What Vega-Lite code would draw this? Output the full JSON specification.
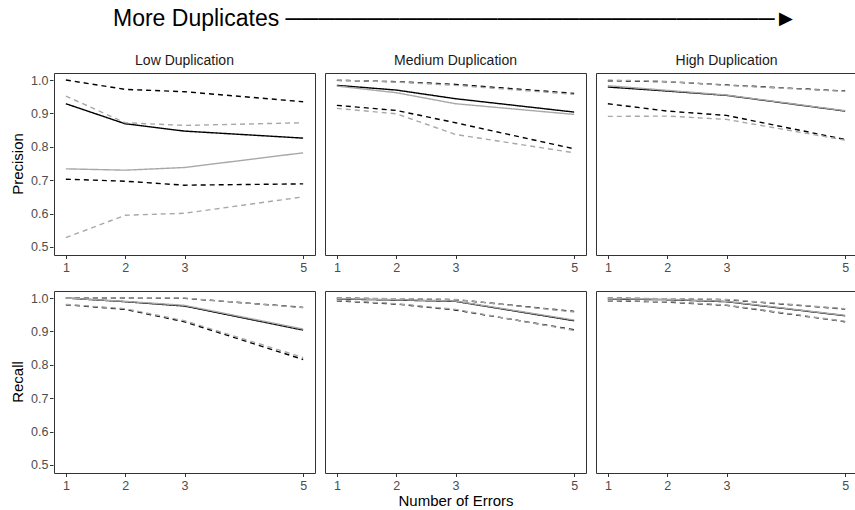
{
  "$schema": "https://vega.github.io/schema/vega-lite/v6.json",
  "padding": {"left": 10, "top": 8, "right": 0, "bottom": 2},
  "title": {
    "text": "More Duplicates ──────────────────────────────►",
    "anchor": "start",
    "frame": "group",
    "fontSize": 23,
    "fontWeight": "normal",
    "font": "Liberation Sans",
    "color": "#000000",
    "dx": 59,
    "offset": 23
  },
  "data": {"values": [
    {"m":"Precision","d":"Low Duplication","g":"A","s":"upper","x":1,"y":1.0},
    {"m":"Precision","d":"Low Duplication","g":"A","s":"upper","x":2,"y":0.972},
    {"m":"Precision","d":"Low Duplication","g":"A","s":"upper","x":3,"y":0.965},
    {"m":"Precision","d":"Low Duplication","g":"A","s":"upper","x":5,"y":0.935},
    {"m":"Precision","d":"Low Duplication","g":"A","s":"mean","x":1,"y":0.929},
    {"m":"Precision","d":"Low Duplication","g":"A","s":"mean","x":2,"y":0.869},
    {"m":"Precision","d":"Low Duplication","g":"A","s":"mean","x":3,"y":0.847},
    {"m":"Precision","d":"Low Duplication","g":"A","s":"mean","x":5,"y":0.826},
    {"m":"Precision","d":"Low Duplication","g":"A","s":"lower","x":1,"y":0.703},
    {"m":"Precision","d":"Low Duplication","g":"A","s":"lower","x":2,"y":0.697},
    {"m":"Precision","d":"Low Duplication","g":"A","s":"lower","x":3,"y":0.685},
    {"m":"Precision","d":"Low Duplication","g":"A","s":"lower","x":5,"y":0.689},
    {"m":"Precision","d":"Medium Duplication","g":"A","s":"upper","x":1,"y":0.999},
    {"m":"Precision","d":"Medium Duplication","g":"A","s":"upper","x":2,"y":0.995},
    {"m":"Precision","d":"Medium Duplication","g":"A","s":"upper","x":3,"y":0.987},
    {"m":"Precision","d":"Medium Duplication","g":"A","s":"upper","x":5,"y":0.960},
    {"m":"Precision","d":"Medium Duplication","g":"A","s":"mean","x":1,"y":0.984},
    {"m":"Precision","d":"Medium Duplication","g":"A","s":"mean","x":2,"y":0.970},
    {"m":"Precision","d":"Medium Duplication","g":"A","s":"mean","x":3,"y":0.944},
    {"m":"Precision","d":"Medium Duplication","g":"A","s":"mean","x":5,"y":0.904},
    {"m":"Precision","d":"Medium Duplication","g":"A","s":"lower","x":1,"y":0.924},
    {"m":"Precision","d":"Medium Duplication","g":"A","s":"lower","x":2,"y":0.909},
    {"m":"Precision","d":"Medium Duplication","g":"A","s":"lower","x":3,"y":0.872},
    {"m":"Precision","d":"Medium Duplication","g":"A","s":"lower","x":5,"y":0.794},
    {"m":"Precision","d":"High Duplication","g":"A","s":"upper","x":1,"y":0.998},
    {"m":"Precision","d":"High Duplication","g":"A","s":"upper","x":2,"y":0.995},
    {"m":"Precision","d":"High Duplication","g":"A","s":"upper","x":3,"y":0.985},
    {"m":"Precision","d":"High Duplication","g":"A","s":"upper","x":5,"y":0.967},
    {"m":"Precision","d":"High Duplication","g":"A","s":"mean","x":1,"y":0.979},
    {"m":"Precision","d":"High Duplication","g":"A","s":"mean","x":2,"y":0.967},
    {"m":"Precision","d":"High Duplication","g":"A","s":"mean","x":3,"y":0.954},
    {"m":"Precision","d":"High Duplication","g":"A","s":"mean","x":5,"y":0.907},
    {"m":"Precision","d":"High Duplication","g":"A","s":"lower","x":1,"y":0.929},
    {"m":"Precision","d":"High Duplication","g":"A","s":"lower","x":2,"y":0.907},
    {"m":"Precision","d":"High Duplication","g":"A","s":"lower","x":3,"y":0.894},
    {"m":"Precision","d":"High Duplication","g":"A","s":"lower","x":5,"y":0.822},
    {"m":"Recall","d":"Low Duplication","g":"A","s":"upper","x":1,"y":1.0},
    {"m":"Recall","d":"Low Duplication","g":"A","s":"upper","x":2,"y":1.0},
    {"m":"Recall","d":"Low Duplication","g":"A","s":"upper","x":3,"y":0.999},
    {"m":"Recall","d":"Low Duplication","g":"A","s":"upper","x":5,"y":0.972},
    {"m":"Recall","d":"Low Duplication","g":"A","s":"mean","x":1,"y":1.0},
    {"m":"Recall","d":"Low Duplication","g":"A","s":"mean","x":2,"y":0.989},
    {"m":"Recall","d":"Low Duplication","g":"A","s":"mean","x":3,"y":0.976},
    {"m":"Recall","d":"Low Duplication","g":"A","s":"mean","x":5,"y":0.904},
    {"m":"Recall","d":"Low Duplication","g":"A","s":"lower","x":1,"y":0.980},
    {"m":"Recall","d":"Low Duplication","g":"A","s":"lower","x":2,"y":0.966},
    {"m":"Recall","d":"Low Duplication","g":"A","s":"lower","x":3,"y":0.929},
    {"m":"Recall","d":"Low Duplication","g":"A","s":"lower","x":5,"y":0.816},
    {"m":"Recall","d":"Medium Duplication","g":"A","s":"upper","x":1,"y":1.0},
    {"m":"Recall","d":"Medium Duplication","g":"A","s":"upper","x":2,"y":0.997},
    {"m":"Recall","d":"Medium Duplication","g":"A","s":"upper","x":3,"y":0.995},
    {"m":"Recall","d":"Medium Duplication","g":"A","s":"upper","x":5,"y":0.960},
    {"m":"Recall","d":"Medium Duplication","g":"A","s":"mean","x":1,"y":0.997},
    {"m":"Recall","d":"Medium Duplication","g":"A","s":"mean","x":2,"y":0.994},
    {"m":"Recall","d":"Medium Duplication","g":"A","s":"mean","x":3,"y":0.990},
    {"m":"Recall","d":"Medium Duplication","g":"A","s":"mean","x":5,"y":0.932},
    {"m":"Recall","d":"Medium Duplication","g":"A","s":"lower","x":1,"y":0.992},
    {"m":"Recall","d":"Medium Duplication","g":"A","s":"lower","x":2,"y":0.982},
    {"m":"Recall","d":"Medium Duplication","g":"A","s":"lower","x":3,"y":0.964},
    {"m":"Recall","d":"Medium Duplication","g":"A","s":"lower","x":5,"y":0.905},
    {"m":"Recall","d":"High Duplication","g":"A","s":"upper","x":1,"y":1.0},
    {"m":"Recall","d":"High Duplication","g":"A","s":"upper","x":2,"y":0.997},
    {"m":"Recall","d":"High Duplication","g":"A","s":"upper","x":3,"y":0.995},
    {"m":"Recall","d":"High Duplication","g":"A","s":"upper","x":5,"y":0.967},
    {"m":"Recall","d":"High Duplication","g":"A","s":"mean","x":1,"y":0.997},
    {"m":"Recall","d":"High Duplication","g":"A","s":"mean","x":2,"y":0.995},
    {"m":"Recall","d":"High Duplication","g":"A","s":"mean","x":3,"y":0.989},
    {"m":"Recall","d":"High Duplication","g":"A","s":"mean","x":5,"y":0.947},
    {"m":"Recall","d":"High Duplication","g":"A","s":"lower","x":1,"y":0.992},
    {"m":"Recall","d":"High Duplication","g":"A","s":"lower","x":2,"y":0.988},
    {"m":"Recall","d":"High Duplication","g":"A","s":"lower","x":3,"y":0.978},
    {"m":"Recall","d":"High Duplication","g":"A","s":"lower","x":5,"y":0.929},
    {"m":"Precision","d":"Low Duplication","g":"B","s":"upper","x":1,"y":0.952},
    {"m":"Precision","d":"Low Duplication","g":"B","s":"upper","x":2,"y":0.872},
    {"m":"Precision","d":"Low Duplication","g":"B","s":"upper","x":3,"y":0.864},
    {"m":"Precision","d":"Low Duplication","g":"B","s":"upper","x":5,"y":0.872},
    {"m":"Precision","d":"Low Duplication","g":"B","s":"mean","x":1,"y":0.734},
    {"m":"Precision","d":"Low Duplication","g":"B","s":"mean","x":2,"y":0.730},
    {"m":"Precision","d":"Low Duplication","g":"B","s":"mean","x":3,"y":0.738},
    {"m":"Precision","d":"Low Duplication","g":"B","s":"mean","x":5,"y":0.782},
    {"m":"Precision","d":"Low Duplication","g":"B","s":"lower","x":1,"y":0.528},
    {"m":"Precision","d":"Low Duplication","g":"B","s":"lower","x":2,"y":0.595},
    {"m":"Precision","d":"Low Duplication","g":"B","s":"lower","x":3,"y":0.601},
    {"m":"Precision","d":"Low Duplication","g":"B","s":"lower","x":5,"y":0.650},
    {"m":"Precision","d":"Medium Duplication","g":"B","s":"upper","x":1,"y":1.0},
    {"m":"Precision","d":"Medium Duplication","g":"B","s":"upper","x":2,"y":0.994},
    {"m":"Precision","d":"Medium Duplication","g":"B","s":"upper","x":3,"y":0.984},
    {"m":"Precision","d":"Medium Duplication","g":"B","s":"upper","x":5,"y":0.957},
    {"m":"Precision","d":"Medium Duplication","g":"B","s":"mean","x":1,"y":0.982},
    {"m":"Precision","d":"Medium Duplication","g":"B","s":"mean","x":2,"y":0.962},
    {"m":"Precision","d":"Medium Duplication","g":"B","s":"mean","x":3,"y":0.929},
    {"m":"Precision","d":"Medium Duplication","g":"B","s":"mean","x":5,"y":0.897},
    {"m":"Precision","d":"Medium Duplication","g":"B","s":"lower","x":1,"y":0.915},
    {"m":"Precision","d":"Medium Duplication","g":"B","s":"lower","x":2,"y":0.899},
    {"m":"Precision","d":"Medium Duplication","g":"B","s":"lower","x":3,"y":0.837},
    {"m":"Precision","d":"Medium Duplication","g":"B","s":"lower","x":5,"y":0.782},
    {"m":"Precision","d":"High Duplication","g":"B","s":"upper","x":1,"y":1.0},
    {"m":"Precision","d":"High Duplication","g":"B","s":"upper","x":2,"y":0.996},
    {"m":"Precision","d":"High Duplication","g":"B","s":"upper","x":3,"y":0.984},
    {"m":"Precision","d":"High Duplication","g":"B","s":"upper","x":5,"y":0.966},
    {"m":"Precision","d":"High Duplication","g":"B","s":"mean","x":1,"y":0.983},
    {"m":"Precision","d":"High Duplication","g":"B","s":"mean","x":2,"y":0.969},
    {"m":"Precision","d":"High Duplication","g":"B","s":"mean","x":3,"y":0.955},
    {"m":"Precision","d":"High Duplication","g":"B","s":"mean","x":5,"y":0.908},
    {"m":"Precision","d":"High Duplication","g":"B","s":"lower","x":1,"y":0.891},
    {"m":"Precision","d":"High Duplication","g":"B","s":"lower","x":2,"y":0.892},
    {"m":"Precision","d":"High Duplication","g":"B","s":"lower","x":3,"y":0.882},
    {"m":"Precision","d":"High Duplication","g":"B","s":"lower","x":5,"y":0.820},
    {"m":"Recall","d":"Low Duplication","g":"B","s":"upper","x":1,"y":1.0},
    {"m":"Recall","d":"Low Duplication","g":"B","s":"upper","x":2,"y":1.0},
    {"m":"Recall","d":"Low Duplication","g":"B","s":"upper","x":3,"y":1.0},
    {"m":"Recall","d":"Low Duplication","g":"B","s":"upper","x":5,"y":0.971},
    {"m":"Recall","d":"Low Duplication","g":"B","s":"mean","x":1,"y":1.0},
    {"m":"Recall","d":"Low Duplication","g":"B","s":"mean","x":2,"y":0.990},
    {"m":"Recall","d":"Low Duplication","g":"B","s":"mean","x":3,"y":0.978},
    {"m":"Recall","d":"Low Duplication","g":"B","s":"mean","x":5,"y":0.907},
    {"m":"Recall","d":"Low Duplication","g":"B","s":"lower","x":1,"y":0.981},
    {"m":"Recall","d":"Low Duplication","g":"B","s":"lower","x":2,"y":0.968},
    {"m":"Recall","d":"Low Duplication","g":"B","s":"lower","x":3,"y":0.932},
    {"m":"Recall","d":"Low Duplication","g":"B","s":"lower","x":5,"y":0.822},
    {"m":"Recall","d":"Medium Duplication","g":"B","s":"upper","x":1,"y":1.0},
    {"m":"Recall","d":"Medium Duplication","g":"B","s":"upper","x":2,"y":0.998},
    {"m":"Recall","d":"Medium Duplication","g":"B","s":"upper","x":3,"y":0.996},
    {"m":"Recall","d":"Medium Duplication","g":"B","s":"upper","x":5,"y":0.958},
    {"m":"Recall","d":"Medium Duplication","g":"B","s":"mean","x":1,"y":0.998},
    {"m":"Recall","d":"Medium Duplication","g":"B","s":"mean","x":2,"y":0.995},
    {"m":"Recall","d":"Medium Duplication","g":"B","s":"mean","x":3,"y":0.991},
    {"m":"Recall","d":"Medium Duplication","g":"B","s":"mean","x":5,"y":0.934},
    {"m":"Recall","d":"Medium Duplication","g":"B","s":"lower","x":1,"y":0.993},
    {"m":"Recall","d":"Medium Duplication","g":"B","s":"lower","x":2,"y":0.983},
    {"m":"Recall","d":"Medium Duplication","g":"B","s":"lower","x":3,"y":0.966},
    {"m":"Recall","d":"Medium Duplication","g":"B","s":"lower","x":5,"y":0.903},
    {"m":"Recall","d":"High Duplication","g":"B","s":"upper","x":1,"y":1.0},
    {"m":"Recall","d":"High Duplication","g":"B","s":"upper","x":2,"y":0.998},
    {"m":"Recall","d":"High Duplication","g":"B","s":"upper","x":3,"y":0.996},
    {"m":"Recall","d":"High Duplication","g":"B","s":"upper","x":5,"y":0.968},
    {"m":"Recall","d":"High Duplication","g":"B","s":"mean","x":1,"y":0.998},
    {"m":"Recall","d":"High Duplication","g":"B","s":"mean","x":2,"y":0.996},
    {"m":"Recall","d":"High Duplication","g":"B","s":"mean","x":3,"y":0.990},
    {"m":"Recall","d":"High Duplication","g":"B","s":"mean","x":5,"y":0.948},
    {"m":"Recall","d":"High Duplication","g":"B","s":"lower","x":1,"y":0.993},
    {"m":"Recall","d":"High Duplication","g":"B","s":"lower","x":2,"y":0.989},
    {"m":"Recall","d":"High Duplication","g":"B","s":"lower","x":3,"y":0.979},
    {"m":"Recall","d":"High Duplication","g":"B","s":"lower","x":5,"y":0.930}
  ]},
  "facet": {
    "row": {
      "field": "m",
      "type": "nominal",
      "sort": ["Precision", "Recall"],
      "title": null,
      "header": {"labelOrient": "left", "labelAngle": -90, "labelFontSize": 15, "labelColor": "#000000", "labelFont": "Liberation Sans", "labelPadding": -10, "labelAlign": "center", "labelBaseline": "bottom"}
    },
    "column": {
      "field": "d",
      "type": "nominal",
      "sort": ["Low Duplication", "Medium Duplication", "High Duplication"],
      "title": "Number of Errors",
      "header": {"labelOrient": "top", "titleOrient": "bottom", "labelFontSize": 14, "labelColor": "#1a1a1a", "labelFont": "Liberation Sans", "labelPadding": 4, "titleFontSize": 15, "titleFontWeight": "normal", "titleColor": "#000000", "titleFont": "Liberation Sans", "titlePadding": -9}
    }
  },
  "spacing": {"row": 15, "column": 8},
  "resolve": {"axis": {"x": "independent"}},
  "spec": {
    "width": 261,
    "height": 182,
    "mark": {"type": "line", "strokeWidth": 1.4},
    "encoding": {
      "x": {"field": "x", "type": "quantitative", "scale": {"domain": [0.8, 5.2], "nice": false, "zero": false},
            "axis": {"title": null, "values": [1, 2, 3, 5], "format": "d", "labelPadding": 3}},
      "y": {"field": "y", "type": "quantitative", "scale": {"domain": [0.476, 1.021], "nice": false, "zero": false},
            "axis": {"title": null, "values": [0.5, 0.6, 0.7, 0.8, 0.9, 1.0], "format": ".1f", "labelPadding": 1.5}},
      "color": {"field": "g", "type": "nominal", "scale": {"domain": ["A", "B"], "range": ["#000000", "#a8a8a8"]}, "legend": null},
      "strokeDash": {"field": "s", "type": "nominal", "scale": {"domain": ["mean", "lower", "upper"], "range": [[1, 0], [5, 4], [5, 4]]}, "legend": null}
    }
  },
  "config": {
    "font": "Liberation Sans",
    "view": {"stroke": "#333333", "strokeWidth": 1},
    "axis": {"grid": false, "domain": false, "tickColor": "#333333", "tickSize": 3.5, "labelColor": "#4d4d4d", "labelFontSize": 12.5, "labelFont": "Liberation Sans"}
  }
}
